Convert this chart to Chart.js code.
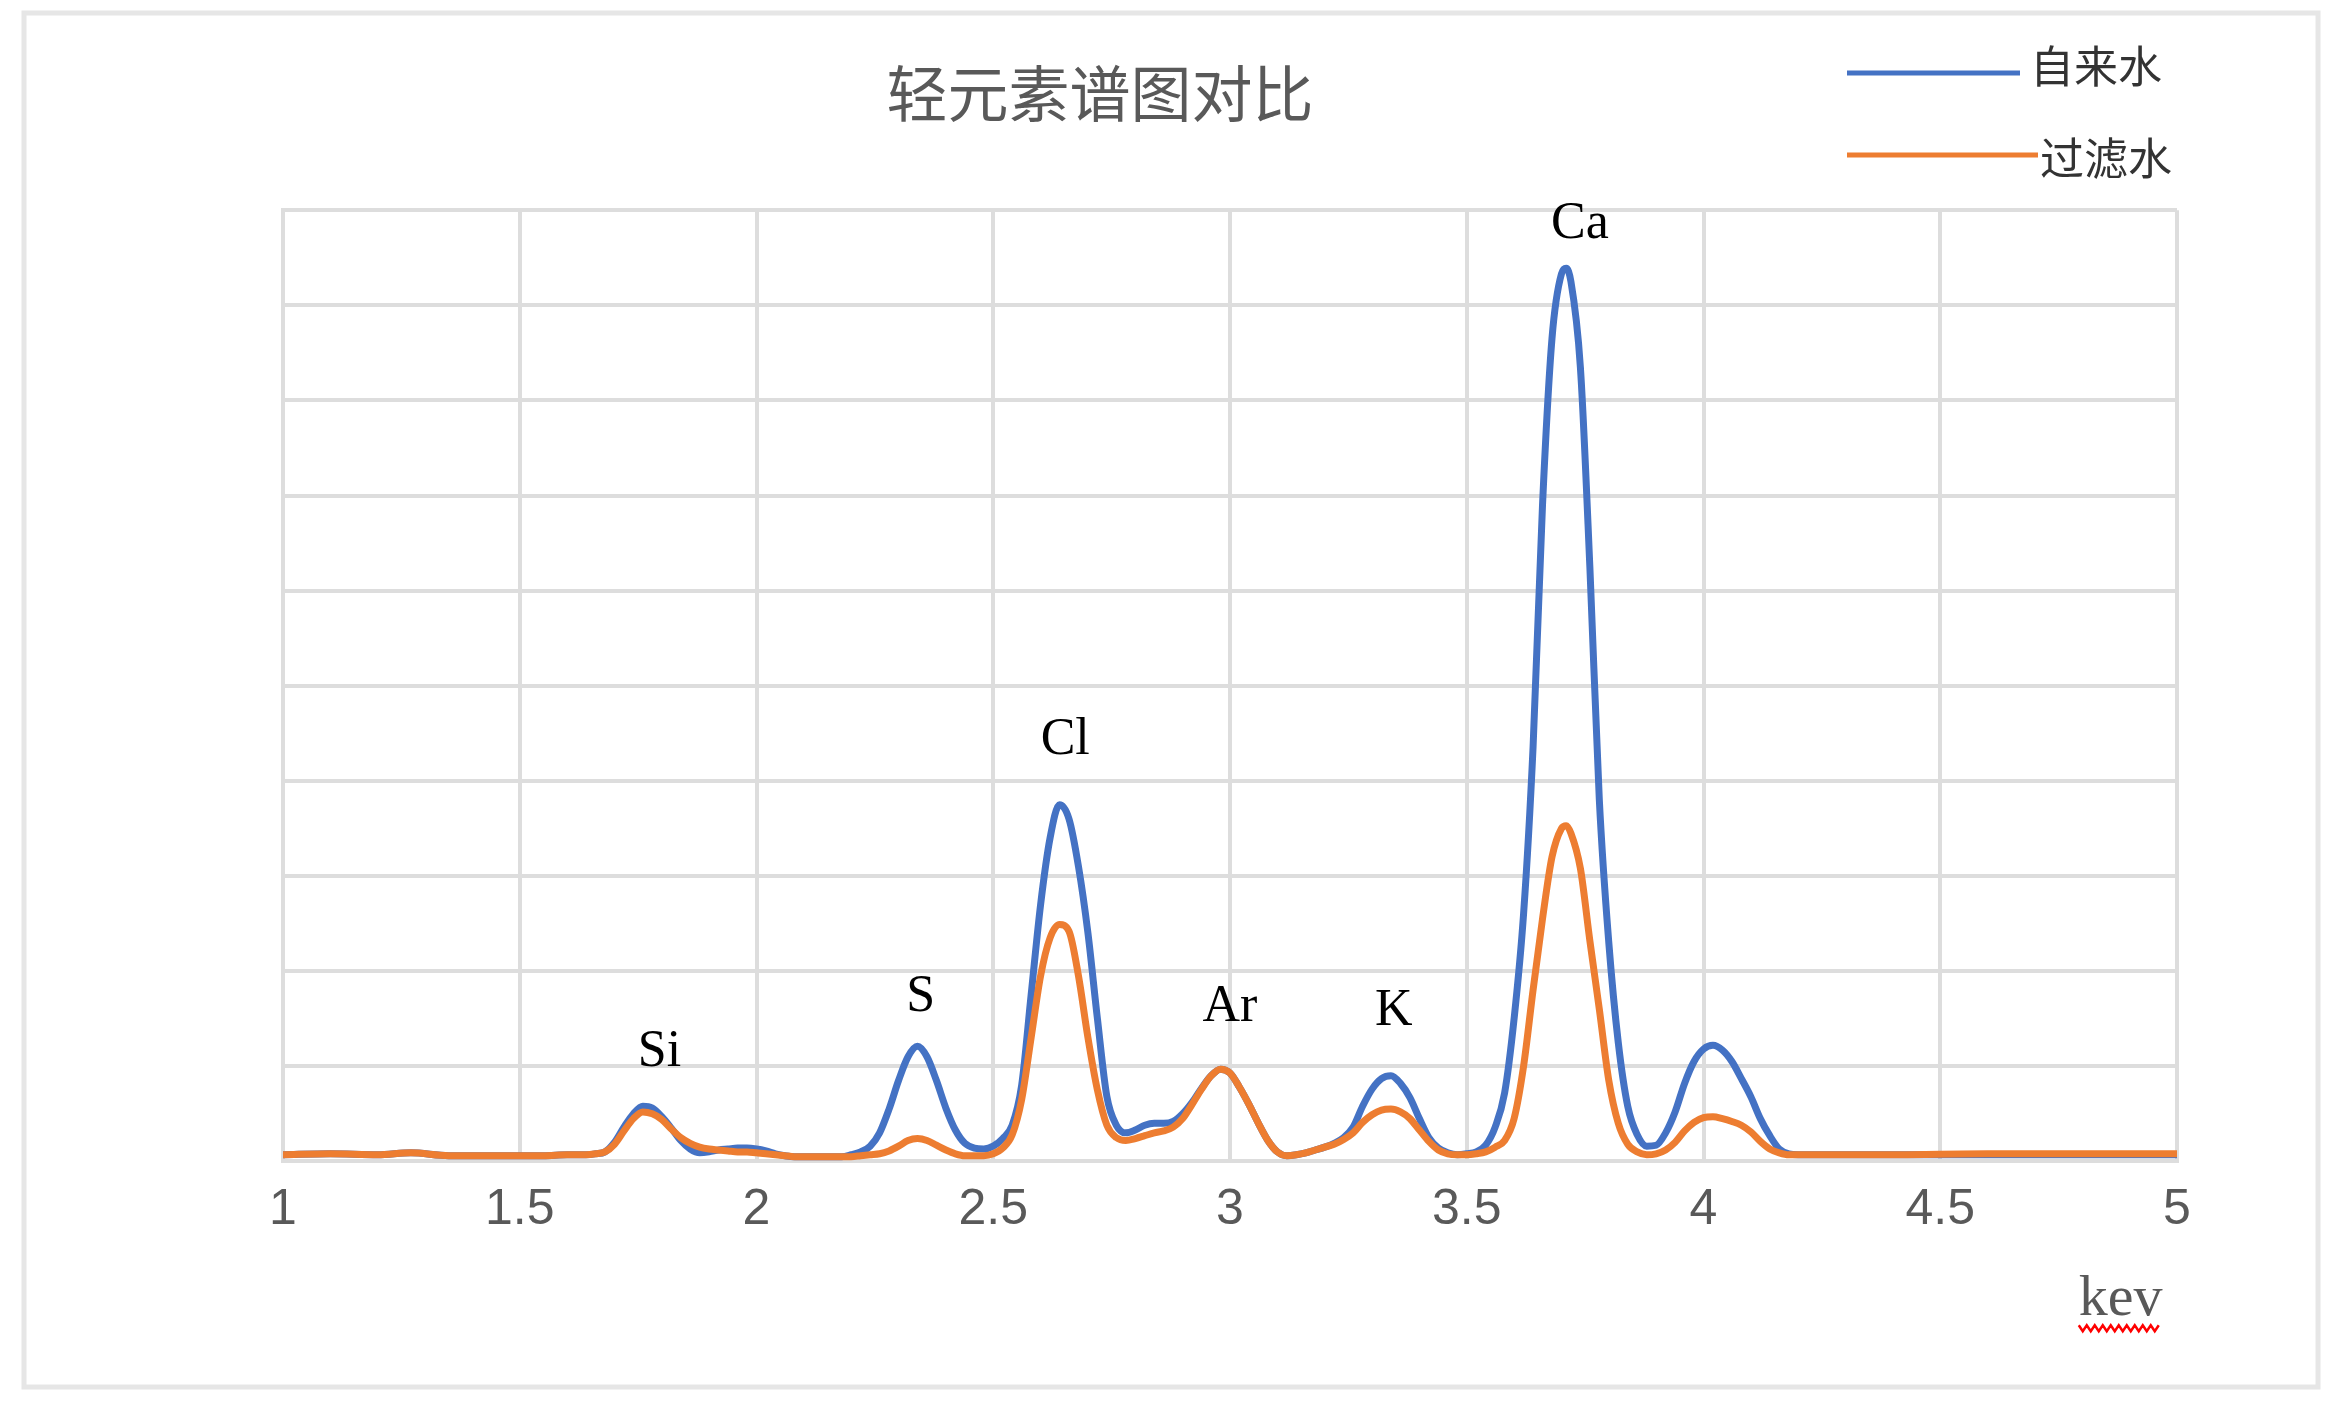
<!DOCTYPE html>
<html lang="zh-CN">
<head>
    <meta charset="UTF-8">
    <title>轻元素谱图对比</title>
    <script src="https://cdn.jsdelivr.net/npm/chart.js@4.4.0/dist/chart.umd.min.js"></script>
    <style>
        html, body {
            margin: 0;
            padding: 0;
            background: #ffffff;
            overflow: hidden;
        }
        .chart-box {
            position: relative;
            width: 2339px;
            height: 1401px;
        }
    </style>
</head>
<body>
    <div class="chart-box">
        <canvas id="spectrumChart"></canvas>
    </div>

    <script>
        // energy axis (keV)
        const energy = [
            1.00, 1.10, 1.20, 1.27, 1.35, 1.45, 1.55, 1.60,
            1.64, 1.66, 1.68, 1.70, 1.72, 1.74, 1.76, 1.78, 1.80, 1.82, 1.84, 1.86, 1.88, 1.90, 1.92, 1.94, 1.96, 1.98,
            2.00, 2.02, 2.04, 2.06, 2.08, 2.10, 2.12, 2.14, 2.16, 2.18, 2.20, 2.22, 2.24, 2.26, 2.28, 2.30, 2.32, 2.34, 2.36, 2.38,
            2.40, 2.42, 2.44, 2.46, 2.48, 2.50, 2.52, 2.54, 2.56, 2.58, 2.60, 2.62, 2.64, 2.66, 2.68, 2.70, 2.72, 2.74, 2.76, 2.78,
            2.80, 2.82, 2.84, 2.86, 2.88, 2.90, 2.92, 2.94, 2.96, 2.98, 3.00, 3.02, 3.04, 3.06, 3.08, 3.10, 3.12, 3.14, 3.16, 3.18,
            3.20, 3.22, 3.24, 3.26, 3.28, 3.30, 3.32, 3.34, 3.36, 3.38, 3.40, 3.42, 3.44, 3.46, 3.48, 3.50, 3.52, 3.54, 3.56, 3.58,
            3.60, 3.62, 3.64, 3.66, 3.68, 3.70, 3.71, 3.72, 3.74, 3.76, 3.78, 3.80, 3.82, 3.84, 3.86, 3.88, 3.90, 3.92, 3.94, 3.96, 3.98,
            4.00, 4.02, 4.04, 4.06, 4.08, 4.10, 4.12, 4.14, 4.16, 4.18, 4.20, 4.30, 4.40, 4.60, 4.80, 5.00
        ];

        // 自来水 (tap water) counts
        const tapWater = [
            0.07, 0.08, 0.07, 0.09, 0.06, 0.06, 0.06, 0.07,
            0.07, 0.08, 0.10, 0.20, 0.36, 0.50, 0.58, 0.56, 0.47, 0.35, 0.22, 0.13, 0.09, 0.10, 0.12, 0.13, 0.14, 0.14,
            0.13, 0.11, 0.08, 0.06, 0.05, 0.05, 0.05, 0.05, 0.05, 0.05, 0.07, 0.10, 0.16, 0.30, 0.55, 0.85, 1.10, 1.21, 1.10, 0.85,
            0.56, 0.33, 0.19, 0.14, 0.13, 0.16, 0.24, 0.38, 0.80, 1.75, 2.70, 3.40, 3.75, 3.60, 3.10, 2.40, 1.50, 0.68, 0.38, 0.30,
            0.33, 0.38, 0.40, 0.40, 0.42, 0.50, 0.62, 0.77, 0.90, 0.97, 0.93, 0.78, 0.60, 0.40, 0.22, 0.10, 0.06, 0.07, 0.09, 0.12,
            0.15, 0.19, 0.25, 0.36, 0.58, 0.76, 0.87, 0.90, 0.82, 0.67, 0.45, 0.25, 0.14, 0.09, 0.07, 0.08, 0.10, 0.17, 0.36, 0.72,
            1.50, 2.60, 4.35, 6.90, 8.65, 9.33, 9.39, 9.25, 8.35, 6.25, 3.80, 2.30, 1.25, 0.58, 0.28, 0.16, 0.17, 0.30, 0.52, 0.82, 1.05,
            1.18, 1.22, 1.17, 1.05, 0.87, 0.68, 0.45, 0.27, 0.13, 0.08, 0.07, 0.07, 0.07, 0.07, 0.07, 0.07
        ];

        // 过滤水 (filtered water) counts
        const filteredWater = [
            0.07, 0.08, 0.07, 0.09, 0.06, 0.06, 0.06, 0.07,
            0.07, 0.08, 0.10, 0.18, 0.32, 0.45, 0.52, 0.50, 0.44, 0.34, 0.25, 0.19, 0.15, 0.13, 0.12, 0.11, 0.10, 0.10,
            0.09, 0.08, 0.07, 0.06, 0.05, 0.05, 0.05, 0.05, 0.05, 0.05, 0.05, 0.06, 0.07, 0.08, 0.11, 0.16, 0.22, 0.24, 0.22, 0.17,
            0.12, 0.08, 0.06, 0.06, 0.06, 0.08, 0.14, 0.28, 0.65, 1.30, 1.95, 2.35, 2.49, 2.42, 1.95, 1.30, 0.75, 0.38, 0.25, 0.22,
            0.24, 0.27, 0.30, 0.32, 0.36, 0.45, 0.60, 0.76, 0.90, 0.97, 0.93, 0.78, 0.60, 0.40, 0.22, 0.10, 0.06, 0.07, 0.09, 0.12,
            0.15, 0.18, 0.23, 0.30, 0.41, 0.49, 0.54, 0.55, 0.52, 0.45, 0.33, 0.21, 0.12, 0.08, 0.07, 0.07, 0.08, 0.10, 0.15, 0.22,
            0.45, 1.00, 1.80, 2.55, 3.20, 3.50, 3.53, 3.45, 3.08, 2.32, 1.60, 0.85, 0.40, 0.18, 0.10, 0.07, 0.08, 0.12, 0.20, 0.32, 0.41,
            0.46, 0.47, 0.45, 0.42, 0.38, 0.31, 0.21, 0.13, 0.09, 0.07, 0.07, 0.07, 0.07, 0.08, 0.08, 0.08
        ];

        // element labels above the peaks (energy in keV, height in counts)
        const peakNames  = ['Si', 'S', 'Cl', 'Ar', 'K', 'Ca'];
        const peakEnergy = [1.795, 2.347, 2.652, 3.0, 3.346, 3.739];
        const peakHeight = [1.15, 1.72, 4.43, 1.62, 1.58, 9.85];

        const xTicks = [1, 1.5, 2, 2.5, 3, 3.5, 4, 4.5, 5];

        const GRID = '#dddddd';

        // white background + thin grey frame around the whole picture
        const framePlugin = {
            id: 'frame',
            beforeDraw(chart) {
                const ctx = chart.ctx;
                ctx.save();
                ctx.fillStyle = '#ffffff';
                ctx.fillRect(0, 0, chart.width, chart.height);
                ctx.strokeStyle = '#e6e6e6';
                ctx.lineWidth = 5;
                ctx.strokeRect(24, 13, 2294, 1374);
                ctx.restore();
            }
        };

        // element names over the peaks
        const peakLabelPlugin = {
            id: 'peakLabels',
            afterDatasetsDraw(chart) {
                const ctx = chart.ctx;
                const xs = chart.scales.x, ys = chart.scales.y;
                ctx.save();
                ctx.font = '52px "Liberation Serif", "Times New Roman", serif';
                ctx.fillStyle = '#000000';
                ctx.textAlign = 'center';
                ctx.textBaseline = 'middle';
                peakNames.forEach((name, i) => {
                    ctx.fillText(name, xs.getPixelForValue(peakEnergy[i]), ys.getPixelForValue(peakHeight[i]));
                });
                ctx.restore();
            }
        };

        // legend in the top right corner: long line, then the name
        const lineLegendPlugin = {
            id: 'lineLegend',
            afterDraw(chart, args, opts) {
                const ctx = chart.ctx;
                ctx.save();
                ctx.font = '44px "Noto Sans CJK SC", sans-serif';
                ctx.textBaseline = 'middle';
                ctx.textAlign = 'left';
                chart.data.datasets.forEach((ds, i) => {
                    const it = opts.items[i];
                    ctx.strokeStyle = ds.borderColor;
                    ctx.lineWidth = 5;
                    ctx.beginPath();
                    ctx.moveTo(it.x0, it.y);
                    ctx.lineTo(it.x1, it.y);
                    ctx.stroke();
                    ctx.fillStyle = '#333333';
                    ctx.fillText(ds.label, it.tx, it.ty);
                });
                ctx.restore();
            }
        };

        // red wavy spell-check underline under the axis title
        const squigglePlugin = {
            id: 'squiggle',
            afterDraw(chart) {
                const ctx = chart.ctx;
                const sc = chart.scales.x;
                const t = sc.options.title;
                ctx.save();
                ctx.font = t.font.size + 'px ' + t.font.family;
                const w = ctx.measureText('kev').width;
                const right = sc.right - ctx.measureText('\u00a0').width;
                const left = right - w;
                const y = sc.bottom - t.padding.bottom - t.font.size * 0.6 + 28;
                ctx.strokeStyle = '#ff0000';
                ctx.lineWidth = 2.5;
                ctx.beginPath();
                let up = true;
                for (let x = left; x <= right; x += 4) {
                    const yy = up ? y - 3 : y + 3;
                    if (x === left) ctx.moveTo(x, yy); else ctx.lineTo(x, yy);
                    up = !up;
                }
                ctx.stroke();
                ctx.restore();
            }
        };

        new Chart(document.getElementById('spectrumChart'), {
            type: 'line',
            data: {
                labels: energy,
                datasets: [
                    {
                        label: '自来水',
                        data: energy.map((e, i) => ({ x: e, y: tapWater[i] })),
                        borderColor: '#4472C4',
                        borderWidth: 7,
                        pointRadius: 0,
                        cubicInterpolationMode: 'monotone',
                        tension: 0.4,
                        fill: false,
                        order: 2
                    },
                    {
                        label: '过滤水',
                        data: energy.map((e, i) => ({ x: e, y: filteredWater[i] })),
                        borderColor: '#ED7D31',
                        borderWidth: 7,
                        pointRadius: 0,
                        cubicInterpolationMode: 'monotone',
                        tension: 0.4,
                        fill: false,
                        order: 1
                    }
                ]
            },
            options: {
                responsive: true,
                maintainAspectRatio: false,
                animation: false,
                layout: {
                    padding: { left: 23, right: 162, top: 0, bottom: 66 }
                },
                scales: {
                    x: {
                        type: 'linear',
                        min: 1,
                        max: 5,
                        afterBuildTicks(scale) {
                            scale.ticks = xTicks.map(v => ({ value: v }));
                        },
                        ticks: {
                            color: '#595959',
                            padding: 19,
                            font: { family: '"Liberation Sans", Arial, sans-serif', size: 50 },
                            callback: v => String(v)
                        },
                        grid: { color: GRID, lineWidth: 4, drawTicks: false },
                        border: { color: GRID, width: 4 },
                        title: {
                            display: true,
                            text: 'kev\u00a0',
                            align: 'end',
                            color: '#595959',
                            font: { family: '"Liberation Serif", "Times New Roman", serif', size: 58 },
                            padding: { top: 6, bottom: 0 }
                        }
                    },
                    y: {
                        min: 0,
                        max: 10,
                        ticks: { display: false, stepSize: 1 },
                        grid: { color: GRID, lineWidth: 4, drawTicks: false },
                        border: { color: GRID, width: 4 },
                        afterFit(scale) {
                            scale.width = 260;
                        }
                    }
                },
                plugins: {
                    legend: { display: false },
                    tooltip: { enabled: false },
                    title: {
                        display: true,
                        text: '轻元素谱图对比',
                        color: '#595959',
                        font: { family: '"Noto Sans CJK SC", sans-serif', size: 61, weight: 'normal' },
                        padding: { top: 57, bottom: 80 }
                    },
                    lineLegend: {
                        items: [
                            { x0: 1847, x1: 2020, y: 73, tx: 2030, ty: 66 },
                            { x0: 1847, x1: 2038, y: 155, tx: 2040, ty: 158 }
                        ]
                    }
                }
            },
            plugins: [framePlugin, peakLabelPlugin, lineLegendPlugin, squigglePlugin]
        });
    </script>
</body>
</html>
